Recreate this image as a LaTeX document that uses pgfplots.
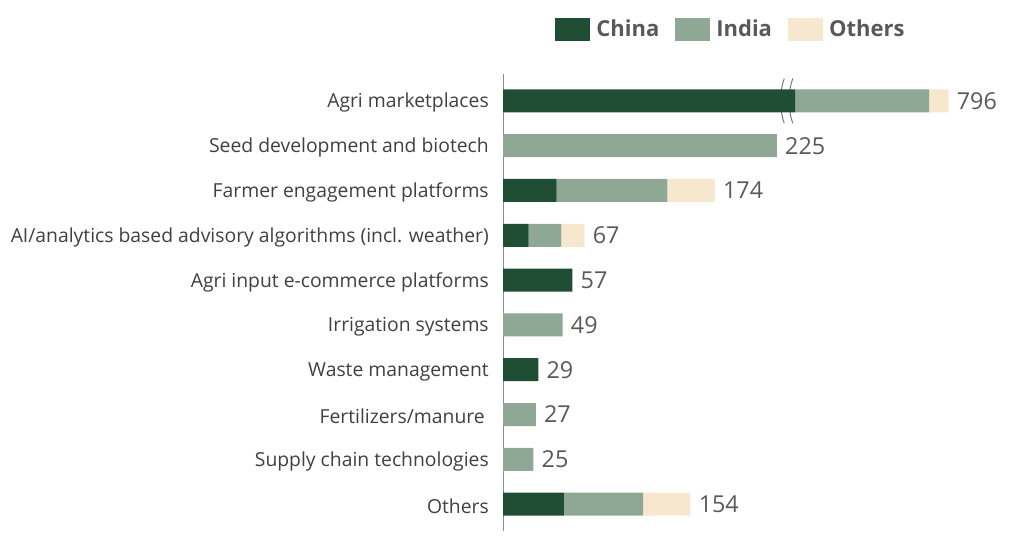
\documentclass[border=0pt]{standalone}
\usepackage{pgfplots}
\pgfplotsset{compat=1.18}
\usepackage{pgfplotstable}
\usepackage{fontspec}
\setmainfont{Open Sans}

\definecolor{chinagreen}{HTML}{1F4E35}
\definecolor{indiagreen}{HTML}{8FA896}
\definecolor{othersbeige}{HTML}{F8E7CF}
\definecolor{labelgray}{HTML}{404040}
\definecolor{numgray}{HTML}{595959}

% displayed bar lengths; the first China bar is drawn cut (axis break), real value about 670
% end = displayed length of the whole bar, total = printed value
\pgfplotstableread[col sep=comma]{
idx,china,india,others,end,total
0,240,110,16,366,796
1,0,225,0,225,225
2,44,91,39,174,174
3,21,27,19,67,67
4,57,0,0,57,57
5,0,49,0,49,49
6,29,0,0,29,29
7,0,27,0,27,27
8,0,25,0,25,25
9,50,65,39,154,154
}\sectors

\pgfplotsset{
  frame/.style = {
      at = {(377.25pt,9.75pt)}
    , anchor = south west
    , scale only axis
    , width = 365.25pt
    , height = 342.75pt
    , xmin = 0, xmax = 400
    , ymin = -0.6, ymax = 9.6
    , y dir = reverse
    }
}

\begin{document}
\begin{tikzpicture}
\useasboundingbox (0,0) rectangle (759.75pt,408pt);
\begin{axis}[
    frame
  , xbar stacked
  , bar width = 17.25pt
  , axis x line = none
  , axis y line* = left
  , y axis line style = {-, draw=black!45, line width=0.75pt}
  , ytick = {0,...,9}
  , yticklabels = {
        {Agri marketplaces},
        {Seed development and biotech},
        {Farmer engagement platforms},
        {AI/analytics based advisory algorithms (incl. weather)},
        {Agri input e-commerce platforms},
        {Irrigation systems},
        {Waste management},
        {Fertilizers/manure\kern3pt},
        {Supply chain technologies},
        {Others}
      }
  , major tick length = 0pt
  , ytick style = {draw=none}
  , yticklabel style = {
        font = \fontsize{14.5pt}{17pt}\selectfont
      , text = labelgray
      , inner sep = 0pt
      , xshift = -10.5pt
      , yshift = -1.5pt
      }
  , legend columns = 3
  , legend image code/.code = {\fill[#1] (0pt,-8.6pt) rectangle (26.25pt,8.6pt);}
  , legend style = {
        at = {(0.466,1.098)}
      , anchor = center
      , draw = none
      , fill = none
      , font = \bfseries\fontsize{16.5pt}{19pt}\selectfont
      , text = numgray
      , nodes = {inner sep=0pt}
      , /tikz/every odd column/.append style = {column sep=4.5pt}
      , /tikz/every even column/.append style = {column sep=12pt}
      }
  ]
\addplot[fill=chinagreen, draw=none] table[x=china, y=idx] {\sectors};
\addplot[fill=indiagreen, draw=none] table[x=india, y=idx] {\sectors};
\addplot[fill=othersbeige, draw=none] table[x=others, y=idx] {\sectors};
\legend{China, India, Others}
% break marks on the first bar
\draw[black!55, line width=0.7pt]
  (axis cs:231,-0.5) .. controls (axis cs:227,-0.2) and (axis cs:227,0.2) .. (axis cs:231,0.5);
\draw[black!55, line width=0.7pt]
  (axis cs:238,-0.5) .. controls (axis cs:234,-0.2) and (axis cs:234,0.2) .. (axis cs:238,0.5);
\end{axis}
% value labels at the end of each bar
\begin{axis}[frame, hide axis, clip = false]
\addplot[
    draw=none, mark=none
  , nodes near coords
  , point meta = explicit symbolic
  , every node near coord/.append style = {
        anchor = west
      , xshift = 6pt
      , inner sep = 0pt
      , font = \fontsize{17.5pt}{20pt}\selectfont
      , text = numgray
      }
  ] table[x=end, y=idx, meta=total] {\sectors};
\end{axis}
\end{tikzpicture}
\end{document}
